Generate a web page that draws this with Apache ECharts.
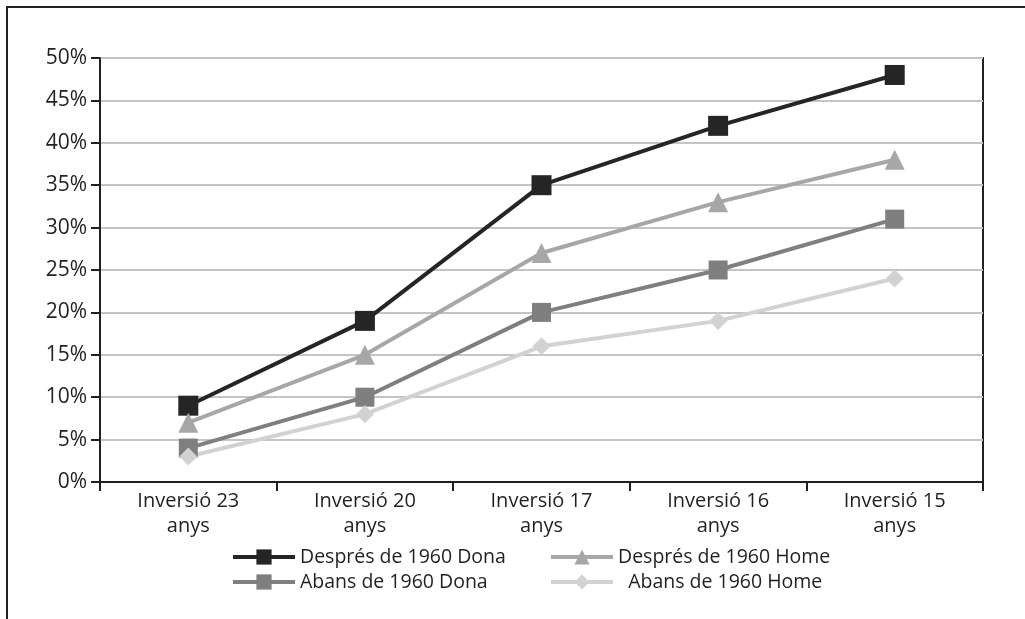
<!DOCTYPE html>
<html><head><meta charset="utf-8">
<script src="https://cdn.jsdelivr.net/npm/echarts@6/dist/echarts.min.js"></script>
<style>html,body{margin:0;padding:0;background:#fff}#c{width:1025px;height:619px}</style>
</head><body><div id="c"></div>
<script>
const categories = ['Inversió 23\nanys','Inversió 20\nanys','Inversió 17\nanys','Inversió 16\nanys','Inversió 15\nanys'];
const despresDona = [9, 19, 35, 42, 48];
const despresHome = [7, 15, 27, 33, 38];
const abansDona = [4, 10, 20, 25, 31];
const abansHome = [3, 8, 16, 19, 24];
const yTicks = [0, 5, 10, 15, 20, 25, 30, 35, 40, 45, 50];

const font = 'Open Sans';
const txt = '#231f20';
const chart = echarts.init(document.getElementById('c'));
function s(name, data, color, symbol, size, w){
  return {name, type:'line', data, symbol, symbolSize:size, color,
    lineStyle:{color, width:w||4}, itemStyle:{color}, z: 3};
}
chart.setOption({
  animation:false,
  backgroundColor:'#fff',
  textStyle:{fontFamily:font, color:txt},
  graphic:[{type:'rect', shape:{x:7,y:7,width:1100,height:700}, style:{fill:'none', stroke:txt, lineWidth:2}, z:-1}],
  grid:{left:100, top:58, right:42, bottom:137, show:true, borderColor:txt, borderWidth:2},
  xAxis:{type:'category', data:categories, boundaryGap:true,
    axisLine:{lineStyle:{color:txt, width:2}},
    axisTick:{show:true, length:9, lineStyle:{color:txt, width:2}},
    axisLabel:{color:txt, fontFamily:font, fontSize:20, lineHeight:25, margin:7}},
  yAxis:{type:'value', min:yTicks[0], max:yTicks[yTicks.length-1], interval:5,
    axisLine:{show:true, lineStyle:{color:txt, width:2}},
    axisTick:{show:true, length:9, lineStyle:{color:txt, width:2}},
    axisLabel:{color:txt, fontFamily:font, fontSize:21, margin:13, formatter:'{value}%'},
    splitLine:{lineStyle:{color:'#c4c4c4', width:2}}},
  legend:[
    {data:['Després de 1960 Dona','Abans de 1960 Dona'], orient:'vertical', left:226, top:542, itemGap:5,
     itemWidth:62, itemHeight:19, lineStyle:{width:4}, textStyle:{fontFamily:font, fontSize:19.5, color:txt}},
    {data:['Després de 1960 Home','Abans de 1960 Home'], orient:'vertical', left:544, top:542, itemGap:5,
     itemWidth:62, itemHeight:19, lineStyle:{width:4}, textStyle:{fontFamily:font, fontSize:19.5, color:txt},
     formatter: n => n.indexOf('Abans') === 0 ? '  ' + n : n}
  ],
  series:[
    s('Després de 1960 Dona', despresDona, '#262425', 'rect', 20),
    s('Després de 1960 Home', despresHome, '#a7a7a9', 'triangle', 20),
    s('Abans de 1960 Dona', abansDona, '#7f7f81', 'rect', 19),
    s('Abans de 1960 Home', abansHome, '#d2d2d2', 'diamond', 18)
  ]
});
</script></body></html>
